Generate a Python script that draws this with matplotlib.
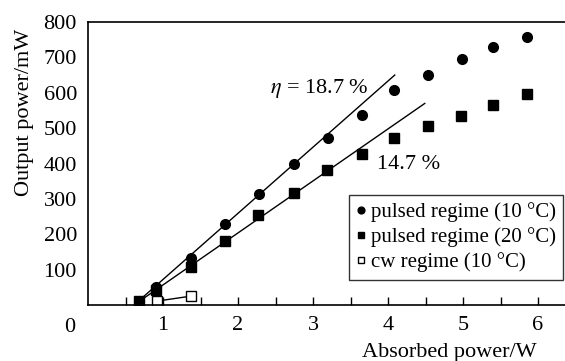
import matplotlib
matplotlib.use('Agg')
import matplotlib.pyplot as plt
import numpy as np

# pulsed regime, 10 C
x_p10 = [0.68, 0.91, 1.37, 1.83, 2.28, 2.75, 3.20, 3.65, 4.08, 4.53, 4.99, 5.40, 5.85]
y_p10 = [11, 51, 133, 229, 314, 398, 472, 537, 607, 650, 695, 729, 757]
# pulsed regime, 20 C
x_p20 = [0.68, 0.91, 1.37, 1.83, 2.27, 2.75, 3.19, 3.65, 4.08, 4.53, 4.97, 5.40, 5.85]
y_p20 = [10, 42, 107, 181, 254, 317, 381, 427, 472, 506, 534, 565, 597]
# cw regime, 10 C
x_cw = [0.92, 1.37]
y_cw = [11, 25]
# linear fits (slope efficiency)
fit_x10 = [0.62, 4.09]
fit_x20 = [0.62, 4.49]
eff10 = 0.187
eff20 = 0.147
x0 = 0.614

plt.rcParams['font.family'] = 'Liberation Serif'
plt.rcParams['mathtext.fontset'] = 'stix'
fs = 16

fig = plt.figure(figsize=(5.65, 3.61), dpi=100)
ax = fig.add_axes([88/565, 1 - 305/361, 1 - 88/565, (305 - 22)/361])

ax.plot(fit_x10, [eff10 * 1000 * (x - x0) for x in fit_x10], color='black', lw=1)
ax.plot(fit_x20, [eff20 * 1000 * (x - x0) for x in fit_x20], color='black', lw=1)
ax.plot(x_cw, y_cw, color='black', lw=1)

ax.plot(x_p10, y_p10, 'o', color='black', ms=7, ls='none', label='pulsed regime (10 °C)')
ax.plot(x_p20, y_p20, 's', color='black', ms=7, ls='none', label='pulsed regime (20 °C)')
ax.plot(x_cw, y_cw, 's', mfc='white', mec='black', mew=1, ms=7, ls='none', label='cw regime (10 °C)')

ax.text(2.43, 613, r'$\eta$ = 18.7 %', fontsize=fs, va='center')
ax.text(3.85, 398, '14.7 %', fontsize=fs, va='center')

ax.set_xlim(0, 6.36)
ax.set_ylim(0, 800)
ax.set_xticks([1, 2, 3, 4, 5, 6])
ax.set_xticks(np.arange(0.5, 6.1, 1.0), minor=True)
ax.set_yticks([100, 200, 300, 400, 500, 600, 700, 800])
ax.tick_params(axis='x', which='both', direction='in', length=6, width=1, labelsize=fs, pad=8)
ax.tick_params(axis='y', length=0, labelsize=fs, pad=8)
ax.spines['right'].set_visible(False)
for s in ['left', 'top', 'bottom']:
    ax.spines[s].set_linewidth(1.2)

# shared origin label, set left of the corner
fig.text(70/565, 1 - 327/361, '0', fontsize=fs, ha='center', va='center')

fig.text(25/565, 1 - 112/361, 'Output power/mW', fontsize=fs, rotation=90, ha='center', va='center')
fig.text(537/565, 1 - 353/361, 'Absorbed power/W', fontsize=fs, ha='right', va='center')

leg = ax.legend(loc='upper right', fontsize=15, frameon=True, fancybox=False, edgecolor='black',
                handlelength=0.5, handletextpad=0.2, borderpad=0.35, labelspacing=0.25,
                markerscale=0.7, borderaxespad=0,
                bbox_to_anchor=((563 - 88) / (565 - 88), (305 - 195) / (305 - 22)))
leg.get_frame().set_linewidth(1)

fig.savefig('out.png', dpi=100)
